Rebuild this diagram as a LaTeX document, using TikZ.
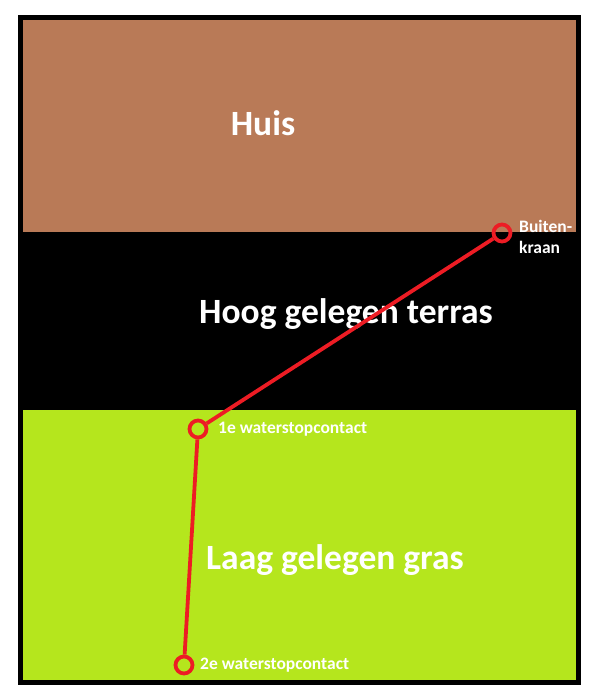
\documentclass[tikz,border=0pt]{standalone}
\usepackage{fontspec}
\setmainfont{Carlito}
\usetikzlibrary{positioning}
\definecolor{huisbruin}{HTML}{B97A57}
\definecolor{grasgroen}{HTML}{B5E61D}
\definecolor{leidingrood}{HTML}{ED1C24}
\tikzset{
  zone/.style={white,font=\bfseries\fontsize{35.5}{40}\selectfont,inner sep=0pt,anchor=base},
  tag/.style={white,font=\bfseries\fontsize{17.5}{21}\selectfont,inner sep=0pt,anchor=base west},
  tap/.style={circle,draw=leidingrood,line width=3.8pt,minimum size=17pt,inner sep=0pt},
  pipe/.style={leidingrood,line width=3.8pt}
}
\begin{document}
\begin{tikzpicture}[x=1pt,y=-1pt]
        \useasboundingbox (0,0) rectangle (600,697);
        % vlakken
        \fill[huisbruin] (20,17) rectangle (578,232);
        \fill[black] (20,232) rectangle (578,410);
        \fill[grasgroen] (20,410) rectangle (578,682);
        \draw[line width=5pt] (20,17) rectangle (578,682);
        \node[zone] (huis) at (263,135) {Huis};
        \node[zone] (terras) at (346,323) {Hoog gelegen terras};
        \node[zone] (gras) at (335,569) {Laag gelegen gras};
        % leiding
        \node[tap] (kraan) at (502,233) {};
        \node[tap] (wsc1) at (198,429) {};
        \node[tap] (wsc2) at (184,665) {};
        \draw[pipe] (kraan) -- (wsc1) -- (wsc2);
        \node[tag] (kraantxt) at (519,232) {Buiten-};
        \node[tag] (kraantxt2) at (519,253) {kraan};
        \node[tag] (wsc1txt) at (218,433.5) {1e waterstopcontact};
        \node[tag] (wsc2txt) at (200,669) {2e waterstopcontact};
    \end{tikzpicture}
\end{document}
